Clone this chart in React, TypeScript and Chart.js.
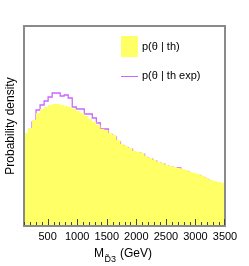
import React, { useEffect, useRef } from "react";
import { Chart, registerables } from "chart.js";

Chart.register(...registerables);

// Bin low edges (GeV) plus the final upper edge
const binEdges = [
  100, 168, 236, 304, 372, 440, 508, 576, 644, 712, 780, 848, 916, 984, 1052,
  1120, 1188, 1256, 1324, 1392, 1460, 1528, 1596, 1664, 1732, 1800, 1868, 1936,
  2004, 2072, 2140, 2208, 2276, 2344, 2412, 2480, 2548, 2616, 2684, 2752, 2820,
  2888, 2956, 3024, 3092, 3160, 3228, 3296, 3364, 3432, 3500,
];

// p(theta | th)  (arbitrary density units)
const pTh = [
  93, 98, 106, 113, 117, 119, 121, 122, 122, 121, 120, 119, 117, 115, 113, 110,
  107, 104, 101, 97, 96, 93, 91, 86, 82, 80, 78, 75, 74, 73, 70, 68, 66, 64, 63,
  61, 60, 59, 58, 57, 56, 54, 53, 52, 50, 48, 46, 45, 44, 43,
];

// p(theta | th exp)
const pThExp = [
  65, 83, 104, 116, 121, 125, 129, 133, 133, 130, 131, 128, 119, 117, 117, 112,
  112, 108, 103, 97, 97, 91, 89, 84, 80, 78, 77, 73, 73, 72, 68, 67, 65, 63, 62,
  60, 59, 58, 58, 55, 54, 52, 51, 50, 48, 46, 44, 41, 36, 26,
];

const tickLabels = [500, 1000, 1500, 2000, 2500, 3000, 3500];
const xMin = 100;
const xMax = 3500;
const yMax = 200;
const minorStep = 100;
const majorStep = 500;

const legendLabels = ["p(θ | th)", "p(θ | th exp)"];
const yTitle = "Probability density";

const YELLOW = "#ffff66";
const MAGENTA = "#cc66ff";
const FRAME = "#8a8a8a";
const FONT = "'Liberation Sans', Arial, Helvetica, sans-serif";

function stepPoints(vals: number[]) {
  return binEdges.map((x, i) => ({ x, y: vals[Math.min(i, vals.length - 1)] }));
}

const decorPlugin = {
  id: "decor",
  afterDraw(chart: any) {
    const ctx = chart.ctx;
    const xs = chart.scales.x;
    const ca = chart.chartArea;
    const l = Math.round(ca.left);
    const r = Math.round(ca.right);
    const t = Math.round(ca.top);
    const b = Math.round(ca.bottom);
    ctx.save();
    // frame (2px, straddling the plot-area edge)
    ctx.fillStyle = FRAME;
    ctx.fillRect(l - 1, t - 1, r - l + 2, 2);
    ctx.fillRect(l - 1, b - 1, r - l + 2, 2);
    ctx.fillRect(l - 1, t - 1, 2, b - t + 2);
    ctx.fillRect(r - 1, t - 1, 2, b - t + 2);
    // ticks
    ctx.fillStyle = "#444444";
    for (let v = xMin; v <= xMax; v += minorStep) {
      const px = Math.round(xs.getPixelForValue(v));
      const len = v % majorStep === 0 ? 6 : 3;
      ctx.fillRect(Math.min(px, r - 1), b - 1 - len, 1, len);
    }

    // legend
    ctx.fillStyle = YELLOW;
    ctx.fillRect(121, 36, 17, 21);
    ctx.fillStyle = MAGENTA;
    ctx.fillRect(121, 76, 17, 1);
    ctx.fillStyle = "#000";
    ctx.font = "11px " + FONT;
    ctx.textBaseline = "middle";
    ctx.textAlign = "left";
    ctx.fillText(legendLabels[0], 142, 47);
    ctx.fillText(legendLabels[1], 142, 76);
    // y title
    ctx.save();
    ctx.translate(11, 126);
    ctx.rotate(-Math.PI / 2);
    ctx.font = "12px " + FONT;
    ctx.textAlign = "center";
    ctx.textBaseline = "middle";
    ctx.fillText(yTitle, 0, 0);
    ctx.restore();
    // x title: M_{D~3} (GeV)
    ctx.textBaseline = "alphabetic";
    ctx.textAlign = "left";
    ctx.font = "12px " + FONT;
    ctx.fillText("M", 94, 257);
    ctx.font = "9px " + FONT;
    ctx.fillText("D\u03033", 104.5, 262);
    ctx.font = "12px " + FONT;
    ctx.fillText("(GeV)", 120, 257);
    ctx.restore();
  },
};

export default function App() {
  const ref = useRef<HTMLCanvasElement>(null);
  useEffect(() => {
    if (!ref.current) return;
    const chart = new Chart(ref.current, {
      type: "line",
      data: {
        datasets: [
          {
            label: legendLabels[0],
            data: stepPoints(pTh),
            stepped: true,
            fill: "origin",
            backgroundColor: YELLOW,
            borderWidth: 0,
            borderColor: "rgba(0,0,0,0)",
            pointRadius: 0,
          },
          {
            label: legendLabels[1],
            data: stepPoints(pThExp),
            stepped: true,
            fill: false,
            borderColor: MAGENTA,
            borderWidth: 1.3,
            pointRadius: 0,
          },
        ],
      },
      options: {
        animation: false,
        responsive: false,
        devicePixelRatio: 1,
        layout: { padding: { left: 24, right: 24, top: 26, bottom: 0 } },
        scales: {
          x: {
            type: "linear",
            min: xMin,
            max: xMax,
            grid: { display: false, drawTicks: false },
            border: { display: false },
            ticks: {
              autoSkip: false,
              maxRotation: 0,
              padding: 4,
              color: "#000",
              font: { size: 11, family: FONT },
              callback: (v: any) => String(v),
            },
            afterBuildTicks: (s: any) => {
              s.ticks = tickLabels.map((v) => ({ value: v }));
            },
            afterFit: (s: any) => {
              s.height = 40;
              s.paddingLeft = 0;
              s.paddingRight = 0;
            },
          },
          y: { display: false, min: 0, max: yMax },
        },
        plugins: { legend: { display: false }, tooltip: { enabled: false } },
      },
      plugins: [decorPlugin],
    } as any);
    return () => chart.destroy();
  }, []);
  return (
    <div style={{ position: "absolute", left: 0, top: 0, width: 249, height: 266, background: "#fff" }}>
      <canvas ref={ref} width={249} height={266} />
    </div>
  );
}
